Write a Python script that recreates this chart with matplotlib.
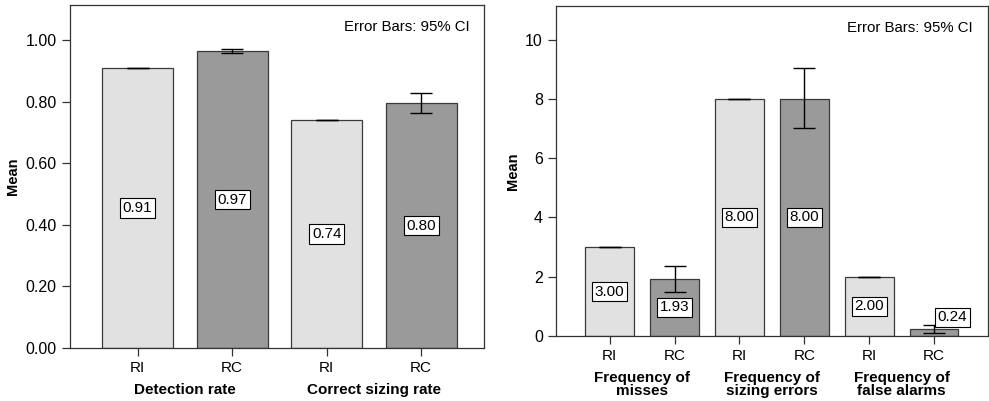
import matplotlib
matplotlib.use("Agg")
import matplotlib.pyplot as plt
import numpy as np

plt.rcParams["font.family"] = ["Liberation Sans", "DejaVu Sans"]

# left panel: rates
rate_ticks = ["RI", "RC", "RI", "RC"]
rate_groups = ["Detection rate", "Correct sizing rate"]
rate_means = [0.911, 0.964, 0.741, 0.795]
rate_lo = [0.911, 0.958, 0.741, 0.764]
rate_hi = [0.911, 0.972, 0.741, 0.829]
rate_labels = ["0.91", "0.97", "0.74", "0.80"]

# right panel: frequencies
freq_ticks = ["RI", "RC", "RI", "RC", "RI", "RC"]
freq_groups = ["Frequency of\nmisses", "Frequency of\nsizing errors", "Frequency of\nfalse alarms"]
freq_means = [3.0, 1.93, 8.0, 8.0, 2.0, 0.24]
freq_lo = [3.0, 1.50, 8.0, 7.0, 2.0, 0.10]
freq_hi = [3.0, 2.35, 8.0, 9.03, 2.0, 0.38]
freq_labels = ["3.00", "1.93", "8.00", "8.00", "2.00", "0.24"]

LIGHT = "#e1e1e1"
DARK = "#9a9a9a"


def draw_panel(ax, ticks, groups, means, lo, hi, labels, ylim, yticks, yfmt, xlim):
    x = np.arange(len(means))
    colors = [LIGHT if t == "RI" else DARK for t in ticks]
    ax.bar(x, means, width=0.75, color=colors, edgecolor="#3a3a3a", linewidth=0.9, zorder=2)
    m = np.array(means)
    yerr = np.vstack([m - np.array(lo), np.array(hi) - m])
    ax.errorbar(x, means, yerr=yerr, fmt="none", ecolor="black", elinewidth=1.0,
                capsize=8, capthick=1.0, zorder=3)
    for xi, v, lab in zip(x, means, labels):
        ypos = v / 2
        xpos = xi
        if v < 0.05 * ylim[1]:
            ypos = v + 0.035 * ylim[1]
            xpos = xi + 0.28
        ax.text(xpos, ypos, lab, ha="center", va="center", fontsize=11, zorder=4,
                bbox=dict(boxstyle="square,pad=0.18", facecolor="white", edgecolor="black", linewidth=0.8))
    ax.set_xlim(*xlim)
    ax.set_ylim(*ylim)
    ax.set_yticks(yticks)
    ax.set_yticklabels([yfmt.format(t) for t in yticks], fontsize=11.5)
    ax.set_xticks(x)
    ax.set_xticklabels(ticks, fontsize=11)
    ax.tick_params(axis="both", length=6, width=0.9, color="#333333")
    ax.set_ylabel("Mean", fontsize=10.5, fontweight="bold")
    for s in ax.spines.values():
        s.set_linewidth(0.9)
        s.set_color("#333333")
    for i, g in enumerate(groups):
        ax.annotate(g, xy=(2 * i + 0.5, 0), xycoords=("data", "axes fraction"),
                    xytext=(0, -25), textcoords="offset points", ha="center", va="top",
                    fontsize=11, fontweight="bold", linespacing=0.95)
    ax.text(0.965, 0.955, "Error Bars: 95% CI", transform=ax.transAxes,
            ha="right", va="top", fontsize=10.8)


fig = plt.figure(figsize=(9.89, 4.01), dpi=100)
ax1 = fig.add_axes([70 / 989, 1 - 348 / 401, 414 / 989, 343 / 401])
ax2 = fig.add_axes([556 / 989, 1 - 336 / 401, 432 / 989, 330 / 401])

draw_panel(ax1, rate_ticks, rate_groups, rate_means, rate_lo, rate_hi, rate_labels,
           (0, 1.114), [0, 0.2, 0.4, 0.6, 0.8, 1.0], "{:.2f}", (-0.716, 3.665))
draw_panel(ax2, freq_ticks, freq_groups, freq_means, freq_lo, freq_hi, freq_labels,
           (0, 11.13), [0, 2, 4, 6, 8, 10], "{:.0f}", (-0.827, 5.83))

fig.savefig("out.png", dpi=100)
